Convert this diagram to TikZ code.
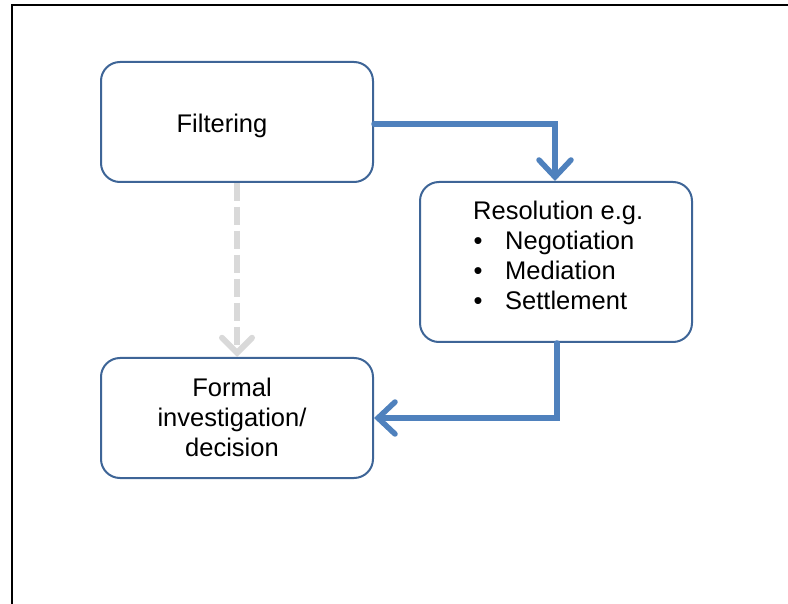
\documentclass[tikz,border=0pt]{standalone}
\usepackage{fontspec}
\setmainfont{Liberation Sans}
\usetikzlibrary{arrows.meta}
\definecolor{boxline}{HTML}{3E6597}
\definecolor{flowblue}{HTML}{4F81BD}
\definecolor{dashgray}{HTML}{D9D9D9}
\tikzset{
  box/.style={draw=boxline, line width=2pt, rounded corners=19pt, fill=white,
    minimum width=272pt, minimum height=120pt, inner sep=0pt},
  txt/.style={font=\fontsize{25.5}{30}\selectfont, inner sep=0pt, anchor=base},
  txtw/.style={txt, anchor=base west},
  flow/.style={draw=flowblue, line width=5.5pt, line cap=round,
    -{Straight Barb[length=17pt,width=32pt,line cap=round]}},
  ghost/.style={draw=dashgray, line width=6pt, dash pattern=on 18pt off 6pt,
    -{Straight Barb[length=15pt,width=30pt,line cap=round]}}
}
\begin{document}
\begin{tikzpicture}[x=1pt,y=-1pt]
\useasboundingbox (0,0) rectangle (788,604);
\draw[line width=2.5pt] (12,606) -- (12,5) -- (790,5);
\node[box] (filt) at (237,122) {};
\node[box, minimum height=160pt] (reso) at (556,262) {};
\node[box] (form) at (237,418) {};
\node[txt] (ftxt) at (222,133) {Filtering};
\node[txt] (fo1) at (232,396) {Formal};
\node[txt] (fo2) at (232,426) {investigation/};
\node[txt] (fo3) at (232,456) {decision};
\node[txtw] (r0) at (473,220) {Resolution e.g.};
\node[txt] (b1) at (478,250) {•};
\node[txt] (b2) at (478,280) {•};
\node[txt] (b3) at (478,310) {•};
\node[txtw] (r1) at (505,250) {Negotiation};
\node[txtw] (r2) at (505,280) {Mediation};
\node[txtw] (r3) at (505,310) {Settlement};
\coordinate (bend1) at (555,124);
\coordinate (bend2) at (557,418);
\draw[flow] (filt.east |- bend1) -- (bend1) -- (bend1 |- reso.north);
\draw[flow] (bend2 |- reso.south) -- (bend2) -- (bend2 -| form.east);
\draw[ghost] (filt.south) -- (form.north);
\end{tikzpicture}
\end{document}
